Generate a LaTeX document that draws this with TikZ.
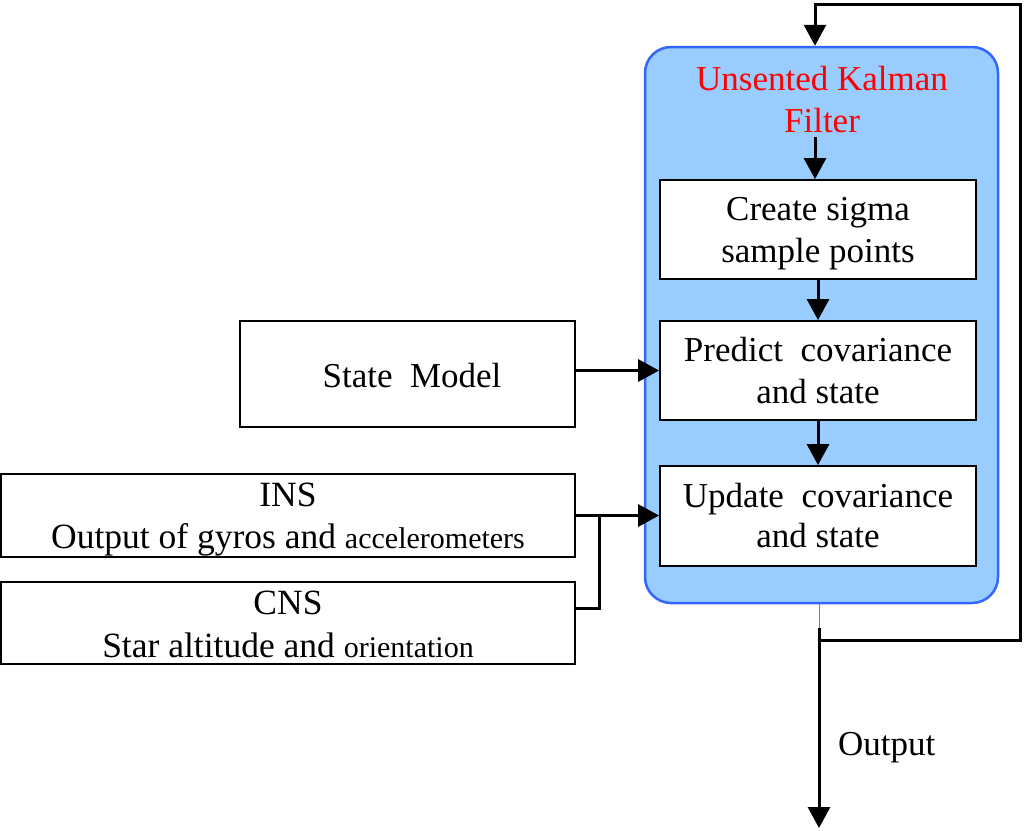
\documentclass[tikz,border=0pt]{standalone}
\usepackage{fontspec}
\setmainfont{Liberation Serif}
\usetikzlibrary{arrows.meta}
\definecolor{ukfblue}{HTML}{3366FF}
\definecolor{ukffill}{HTML}{99CCFF}
\definecolor{ukfred}{HTML}{FF0000}
\begin{document}
\begin{tikzpicture}[x=1pt,y=-1pt,
  box/.style={draw,line width=1.8pt,fill=white,inner sep=0pt},
  txt/.style={anchor=base,inner sep=0pt,font=\fontsize{35}{40}\selectfont},
  small/.style={txt,font=\fontsize{35.5}{40}\selectfont},
  conn/.style={line width=3pt},
  arr/.style={conn,-{Triangle[length=21pt,width=22pt]}}]
\useasboundingbox (0,0) rectangle (1024,830);
% main UKF container
\node[draw=ukfblue, line width=2.5pt, fill=ukffill, rounded corners=26pt,
      minimum width=353pt, minimum height=556pt, inner sep=0pt] (ukf) at (821.5,325) {};
% inner boxes
\node[box, minimum width=316pt, minimum height=99pt] (b1) at (818,229.5) {};
\node[box, minimum width=316pt, minimum height=99pt] (b2) at (818,370.5) {};
\node[box, minimum width=316pt, minimum height=100pt] (b3) at (818,516) {};
% left boxes
\node[box, minimum width=335pt, minimum height=106pt] (state) at (407.5,374) {};
\node[box, minimum width=574pt, minimum height=83pt] (ins) at (288,515.5) {};
\node[box, minimum width=574pt, minimum height=82pt] (cns) at (288,623) {};
% texts
\node[txt, text=ukfred] (t1a) at (822,90) {Unsented Kalman};
\node[txt, text=ukfred] (t1b) at (822,132) {Filter};
\node[txt] (b1a) at (818,220) {Create sigma};
\node[txt] (b1b) at (818,262) {sample points};
\node[txt] (b2a) at (818,361) {Predict\ \ covariance};
\node[txt] (b2b) at (818,403) {and state};
\node[txt] (b3a) at (818,507) {Update\ \ covariance};
\node[txt] (b3b) at (818,547) {and state};
\node[txt] (sm) at (412,387) {State\ \ Model};
\node[small] (insa) at (288,506) {INS};
\node[small] (insb) at (288,548) {Output of gyros and {\fontsize{30}{34}\selectfont accelerometers}};
\node[small] (cnsa) at (288,614) {CNS};
\node[small] (cnsb) at (288,657) {Star altitude and {\fontsize{30}{34}\selectfont orientation}};
\node[txt, anchor=base west] (outlbl) at (838,755) {Output};
% coordinates
\coordinate (ts) at (815,137);
\coordinate (jn) at (599,516);
\coordinate (o1) at (819,628);
\coordinate (o2) at (819,828);
\coordinate (lp) at (819,640);
\coordinate (c1) at (1020,640);
\coordinate (c2) at (1020,4);
\coordinate (c3) at (815,4);
% connectors
\draw[arr] (ts) -- (ts |- b1.north);
\draw[arr] (b1) -- (b2);
\draw[arr] (b2) -- (b3);
\draw[arr] (state.east |- b2.west) -- (b2.west);
\draw[arr] (ins.east) -- (ins.east -| b3.west);
\draw[conn] ([yshift=15pt]cns.east) -| (jn);
\draw[gray, line width=0.8pt] (o1 |- ukf.south) -- (o1);
\draw[arr] (o1) -- (o2);
\draw[conn, -{Triangle[length=21pt,width=22pt]}] (lp) -- (c1) -- (c2) -- (c3) -- (c3 |- ukf.north);
\end{tikzpicture}
\end{document}
